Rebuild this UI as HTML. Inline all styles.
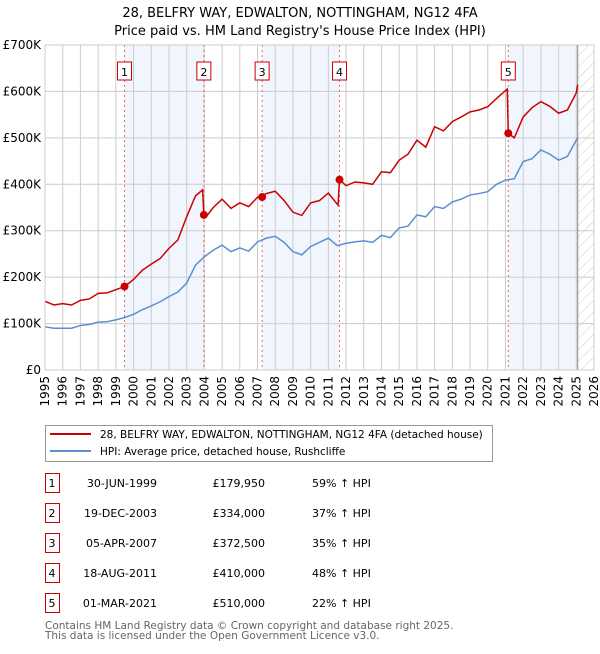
<!DOCTYPE html>
<html><head><meta charset="utf-8"><style>
body{margin:0;background:#fff;font-family:"DejaVu Sans","Liberation Sans",sans-serif;}
svg text{font-family:"DejaVu Sans","Liberation Sans",sans-serif;}
</style></head><body>
<svg id="chart" width="600" height="650" xmlns="http://www.w3.org/2000/svg">
<defs><pattern id="hatch" patternUnits="userSpaceOnUse" width="8" height="8" patternTransform="rotate(45)"><line x1="0" y1="0" x2="0" y2="8" stroke="#ccc" stroke-width="1"/></pattern></defs>
<text x="300" y="17" text-anchor="middle" font-size="13">28, BELFRY WAY, EDWALTON, NOTTINGHAM, NG12 4FA</text>
<text x="300" y="35" text-anchor="middle" font-size="13">Price paid vs. HM Land Registry's House Price Index (HPI)</text>
<g id="bands"></g><g id="grid"></g><g id="lines"></g><g id="marks"></g><g id="axes"></g>
<rect x="45.5" y="425.5" width="447" height="36" fill="#fff" stroke="#999"/>
<line x1="50" y1="434" x2="91" y2="434" stroke="#cc0000" stroke-width="2"/>
<text x="100" y="438" font-size="10.5">28, BELFRY WAY, EDWALTON, NOTTINGHAM, NG12 4FA (detached house)</text>
<line x1="50" y1="451" x2="91" y2="451" stroke="#5b8fd0" stroke-width="2"/>
<text x="100" y="455" font-size="10.5">HPI: Average price, detached house, Rushcliffe</text>
<g id="table" font-size="11"></g>
<text x="45" y="629" font-size="10.5" fill="#666">Contains HM Land Registry data © Crown copyright and database right 2025.</text>
<text x="45" y="639" font-size="10.5" fill="#666">This data is licensed under the Open Government Licence v3.0.</text>
</svg>
<script>
const hpiYears=[1995,1995.5,1996,1996.5,1997,1997.5,1998,1998.5,1999,1999.5,2000,2000.5,2001,2001.5,2002,2002.5,2003,2003.5,2004,2004.5,2005,2005.5,2006,2006.5,2007,2007.5,2008,2008.5,2009,2009.5,2010,2010.5,2011,2011.5,2012,2012.5,2013,2013.5,2014,2014.5,2015,2015.5,2016,2016.5,2017,2017.5,2018,2018.5,2019,2019.5,2020,2020.5,2021,2021.5,2022,2022.5,2023,2023.5,2024,2024.5,2025,2025.08];
const hpiValues=[93,90,90,90,96,98,103,104,108,113,120,130,138,147,158,168,187,226,244,258,269,255,263,256,276,284,288,275,255,248,266,275,284,268,273,276,278,275,290,285,306,310,334,330,352,348,362,368,377,380,384,400,409,412,449,455,474,465,452,460,495,500];
const redYears=[1995,1995.5,1996,1996.5,1997,1997.5,1998,1998.5,1999,1999.5,2000,2000.5,2001,2001.5,2002,2002.5,2003,2003.5,2003.9,2003.97,2004.1,2004.5,2005,2005.5,2006,2006.5,2007,2007.5,2008,2008.5,2009,2009.5,2010,2010.5,2011,2011.55,2011.63,2012,2012.5,2013,2013.5,2014,2014.5,2015,2015.5,2016,2016.5,2017,2017.5,2018,2018.5,2019,2019.5,2020,2020.5,2021.1,2021.16,2021.5,2022,2022.5,2023,2023.5,2024,2024.5,2025,2025.08];
const redValues=[148,140,143,140,150,153,165,166,173,180,195,215,228,240,262,280,330,375,388,334,330,350,368,348,360,352,372,380,385,365,340,333,360,365,381,355,410,397,405,403,400,427,425,452,465,495,480,524,515,535,545,556,560,567,585,605,510,500,545,565,578,568,553,560,597,615];
const saleYears=[1999.49,2003.97,2007.26,2011.63,2021.16];
const saleValues=[179.95,334,372.5,410,510];
const saleLabels=["1","2","3","4","5"];
const saleDates=["30-JUN-1999","19-DEC-2003","05-APR-2007","18-AUG-2011","01-MAR-2021"];
const salePrices=["£179,950","£334,000","£372,500","£410,000","£510,000"];
const saleDiffs=["59% ↑ HPI","37% ↑ HPI","35% ↑ HPI","48% ↑ HPI","22% ↑ HPI"];
const yTicks=[0,100,200,300,400,500,600,700];
const yTickLabels=["£0","£100K","£200K","£300K","£400K","£500K","£600K","£700K"];
const xTicks=[1995,1996,1997,1998,1999,2000,2001,2002,2003,2004,2005,2006,2007,2008,2009,2010,2011,2012,2013,2014,2015,2016,2017,2018,2019,2020,2021,2022,2023,2024,2025,2026];
const dataEnd=2025.08;
const NS="http://www.w3.org/2000/svg";
const X0=45,X1=594,Y0=370,Y1=45;
const xs=y=>X0+(y-1995)/(2026-1995)*(X1-X0);
const ys=v=>Y0-v/700*(Y0-Y1);
function mk(p,t,a){const e=document.createElementNS(NS,t);for(const k in a)e.setAttribute(k,a[k]);document.getElementById(p).appendChild(e);return e;}
[[0,1],[2,3],[4,-1]].forEach((b,i)=>{const a=saleYears[b[0]],e=b[1]<0?dataEnd:saleYears[b[1]];
const r=mk('bands','rect',{x:xs(a),y:Y1,width:xs(e)-xs(a),height:Y0-Y1,fill:'#eef3fc',opacity:0.8});

});
const h=mk('bands','rect',{x:xs(dataEnd),y:Y1,width:X1-xs(dataEnd),height:Y0-Y1,fill:'url(#hatch)'});


xTicks.forEach(t=>{const l=mk('grid','line',{x1:xs(t),x2:xs(t),y1:Y1,y2:Y0,stroke:'#ccc'});


const tx=mk('axes','text',{x:xs(t)+4,y:Y0+6,'font-size':12,'text-anchor':'end',transform:`rotate(-90 ${xs(t)+4} ${Y0+6})`});tx.textContent=t;

});
yTicks.forEach((t,i)=>{const l=mk('grid','line',{x1:X0,x2:X1,y1:ys(t),y2:ys(t),stroke:'#ccc'});


const tx=mk('axes','text',{x:X0-4,y:ys(t)+4,'font-size':12,'text-anchor':'end'});tx.textContent=yTickLabels[i];

});
const el=mk('grid','line',{x1:xs(dataEnd),x2:xs(dataEnd),y1:Y1,y2:Y0,stroke:'#888'});


saleYears.forEach((s,i)=>{const l=mk('grid','line',{x1:xs(s),x2:xs(s),y1:Y1,y2:Y0,stroke:'#e66','stroke-dasharray':'2,3'});


const r=mk('marks','rect',{x:xs(s)-7,y:62,width:14,height:18,fill:'#fff',stroke:'#c00'});


const t=mk('marks','text',{x:xs(s),y:76,'font-size':11,'text-anchor':'middle'});t.textContent=saleLabels[i];


const c=mk('marks','circle',{cx:xs(s),cy:ys(saleValues[i]),r:4,fill:'#c00'});

});
const hp=mk('lines','polyline',{points:hpiYears.map((y,i)=>xs(y)+','+ys(hpiValues[i])).join(' '),fill:'none',stroke:'#5b8fd0','stroke-width':1.5});


const rp=mk('lines','polyline',{points:redYears.map((y,i)=>xs(y)+','+ys(redValues[i])).join(' '),fill:'none',stroke:'#cc0000','stroke-width':1.5});


const fr=mk('axes','rect',{x:X0,y:Y1,width:X1-X0,height:Y0-Y1,fill:'none',stroke:'#ccc'});


saleLabels.forEach((s,i)=>{const cy=483+i*30;
const r=mk('table','rect',{x:45.5,y:cy-9.5,width:14,height:19,fill:'#fff',stroke:'#c00'});


[[52,s,'middle'],[157,saleDates[i],'end'],[265,salePrices[i],'end'],[312,saleDiffs[i],'start']].forEach(c=>{
const t=mk('table','text',{x:c[0],y:cy+4,'text-anchor':c[2]});t.textContent=c[1];

});});
</script>
</body></html>
